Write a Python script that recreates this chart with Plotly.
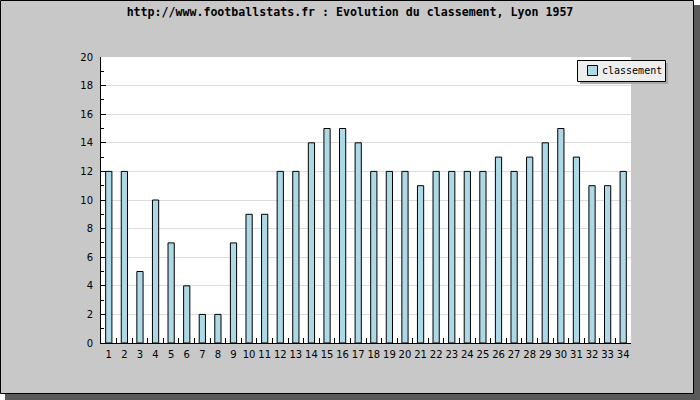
import plotly.graph_objects as go

rounds = [str(i) for i in range(1, 35)]
classement = [12, 12, 5, 10, 7, 4, 2, 2, 7, 9, 9, 12, 12, 14, 15, 15, 14, 12, 12, 12,
              11, 12, 12, 12, 12, 13, 12, 13, 14, 15, 13, 11, 11, 12]
y_ticks = list(range(0, 21, 2))
title_text = "http://www.footballstats.fr : Evolution du classement, Lyon 1957"
legend_label = "classement"

W, H = 700, 400
L, R, T, B = 101, 69, 57, 57
PW, PH = W - L - R, H - T - B


def px(x):
    return (x - L) / PW


def py(y):
    return (H - B - y) / PH


fig = go.Figure()
fig.add_trace(go.Bar(
    x=rounds, y=classement, name=legend_label,
    marker=dict(color="#add8e6", line=dict(color="black", width=1)),
    width=0.4,
))

shapes = [
    # shadow
    dict(type="rect", xref="paper", yref="paper", x0=px(5), x1=px(700), y0=py(5), y1=py(400),
         fillcolor="#5a5a5a", line=dict(width=0), layer="below"),
    # main panel
    dict(type="rect", xref="paper", yref="paper", x0=px(0.5), x1=px(693.5), y0=py(0.5), y1=py(393.5),
         fillcolor="#c8c8c8", line=dict(color="black", width=1), layer="below"),
    # plot area background
    dict(type="rect", xref="paper", yref="paper", x0=0, x1=1, y0=0, y1=1,
         fillcolor="white", line=dict(width=0), layer="below"),
    # legend shadow
    dict(type="rect", xref="paper", yref="paper", x0=px(580), x1=px(668), y0=py(63), y1=py(84),
         fillcolor="#a8a8a8", line=dict(width=0), layer="above"),
    # legend box
    dict(type="rect", xref="paper", yref="paper", x0=px(577.5), x1=px(665.5), y0=py(60.5), y1=py(81.5),
         fillcolor="#eeeeee", line=dict(color="black", width=1), layer="above"),
    # legend swatch
    dict(type="rect", xref="paper", yref="paper", x0=px(587.5), x1=px(597.5), y0=py(65.5), y1=py(75.5),
         fillcolor="#add8e6", line=dict(color="black", width=1), layer="above"),
]

annotations = [
    dict(text=legend_label, xref="paper", yref="paper", x=px(599.5), y=py(70.5),
         xanchor="left", yanchor="middle", showarrow=False,
         font=dict(family="DejaVu Sans Mono", size=10, color="black")),
]

fig.update_layout(
    width=W, height=H,
    margin=dict(l=L, r=R, t=T, b=B),
    paper_bgcolor="white",
    plot_bgcolor="white",
    shapes=shapes,
    annotations=annotations,
    title=dict(text="<b>" + title_text + "</b>", x=0.5, xref="container", xanchor="center",
               y=1 - 12 / H, yref="container", yanchor="middle",
               font=dict(family="DejaVu Sans Mono", size=11.6, color="black")),
    showlegend=False,
    xaxis=dict(type="category", tickson="boundaries", ticks="inside", ticklen=5,
               tickcolor="black", showline=True, linecolor="black", linewidth=1,
               showgrid=False, tickangle=0, ticklabelstandoff=2,
               tickfont=dict(family="DejaVu Sans", size=10, color="black"),
               fixedrange=True),
    yaxis=dict(range=[0, 20], tickvals=y_ticks, ticks="inside", ticklen=5,
               tickcolor="black", showline=True, linecolor="black", linewidth=1,
               showgrid=True, gridcolor="#dcdcdc", gridwidth=1, zeroline=False,
               ticklabelstandoff=5,
               minor=dict(dtick=1, ticks="inside", ticklen=3, tickcolor="black", showgrid=False),
               tickfont=dict(family="DejaVu Sans", size=10, color="black"),
               fixedrange=True),
)

fig.write_html("out.html", config={"displayModeBar": False},
               post_script="document.body.style.margin='0';")
